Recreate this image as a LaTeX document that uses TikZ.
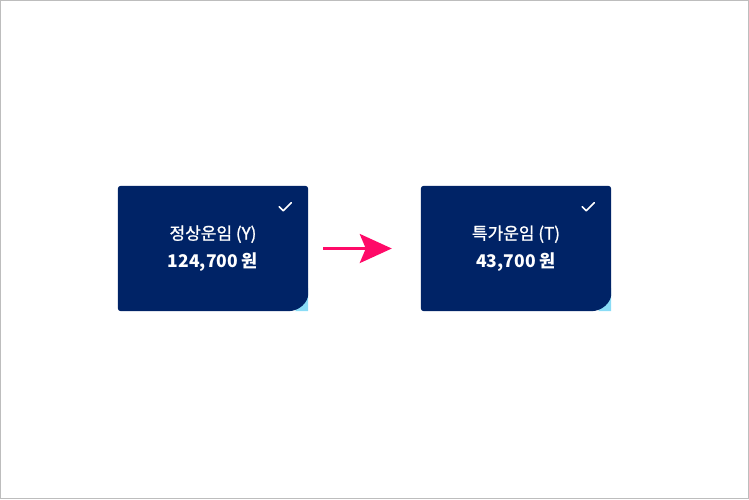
\documentclass[tikz,border=0pt]{standalone}
\usepackage{fontspec}
\setmainfont{Noto Sans CJK KR}
\newfontfamily\midfont[FakeBold=1.2]{Noto Sans CJK KR}
\usetikzlibrary{arrows.meta,backgrounds}
\definecolor{navy}{HTML}{002366}
\definecolor{curl}{HTML}{8ADCF6}
\definecolor{hotpink}{HTML}{FF0A68}
\definecolor{frame}{HTML}{BDBDBD}
\begin{document}
\begin{tikzpicture}[x=1pt,y=-1pt]
        \tikzstyle{every node}=[inner sep=0pt]
        \tikzstyle{fare}=[minimum width=190pt, minimum height=125pt, text=white, align=center, font=\midfont\fontsize{17}{28}\selectfont]
        \tikzstyle{tick}=[white, line width=1.6pt, line cap=round, line join=round]
        \tikzstyle{farearrow}=[hotpink, line width=3pt, -{Stealth[length=32pt, width=29pt, inset=6pt]}]
        \useasboundingbox (0,0) rectangle (749,499);
        \draw[frame, line width=1pt] (0.5,0.5) rectangle (748.5,498.5);
        \node[fare] (normal) at (213,248.5) {정상운임 (Y)\\{\rmfamily\fontsize{17.5}{28}\selectfont\bfseries 124,700 원}};
        \node[fare] (special) at (516,248.5) {특가운임 (T)\\{\rmfamily\fontsize{17.5}{28}\selectfont\bfseries 43,700 원}};
        \begin{scope}[on background layer]
        \foreach \c in {normal,special}{
            \fill[curl] ([yshift=23pt]\c.south east) -- (\c.south east) -- ([xshift=-13pt]\c.south east) -- cycle;
            \fill[navy] ([yshift=20pt]\c.south east) .. controls ([yshift=9pt]\c.south east) and ([xshift=-9pt]\c.south east) .. ([xshift=-20pt]\c.south east) [rounded corners=3pt] -- (\c.south west) -- (\c.north west) -- (\c.north east) -- cycle;
        }
        \end{scope}
        \foreach \c in {normal,special}
            \draw[tick] ([xshift=-29pt,yshift=-21pt]\c.north east) -- ([xshift=-25pt,yshift=-25pt]\c.north east) -- ([xshift=-17pt,yshift=-17pt]\c.north east);
        \draw[farearrow] ([xshift=15pt]normal.east) -- ([xshift=-29pt]special.west);
\end{tikzpicture}
\end{document}
